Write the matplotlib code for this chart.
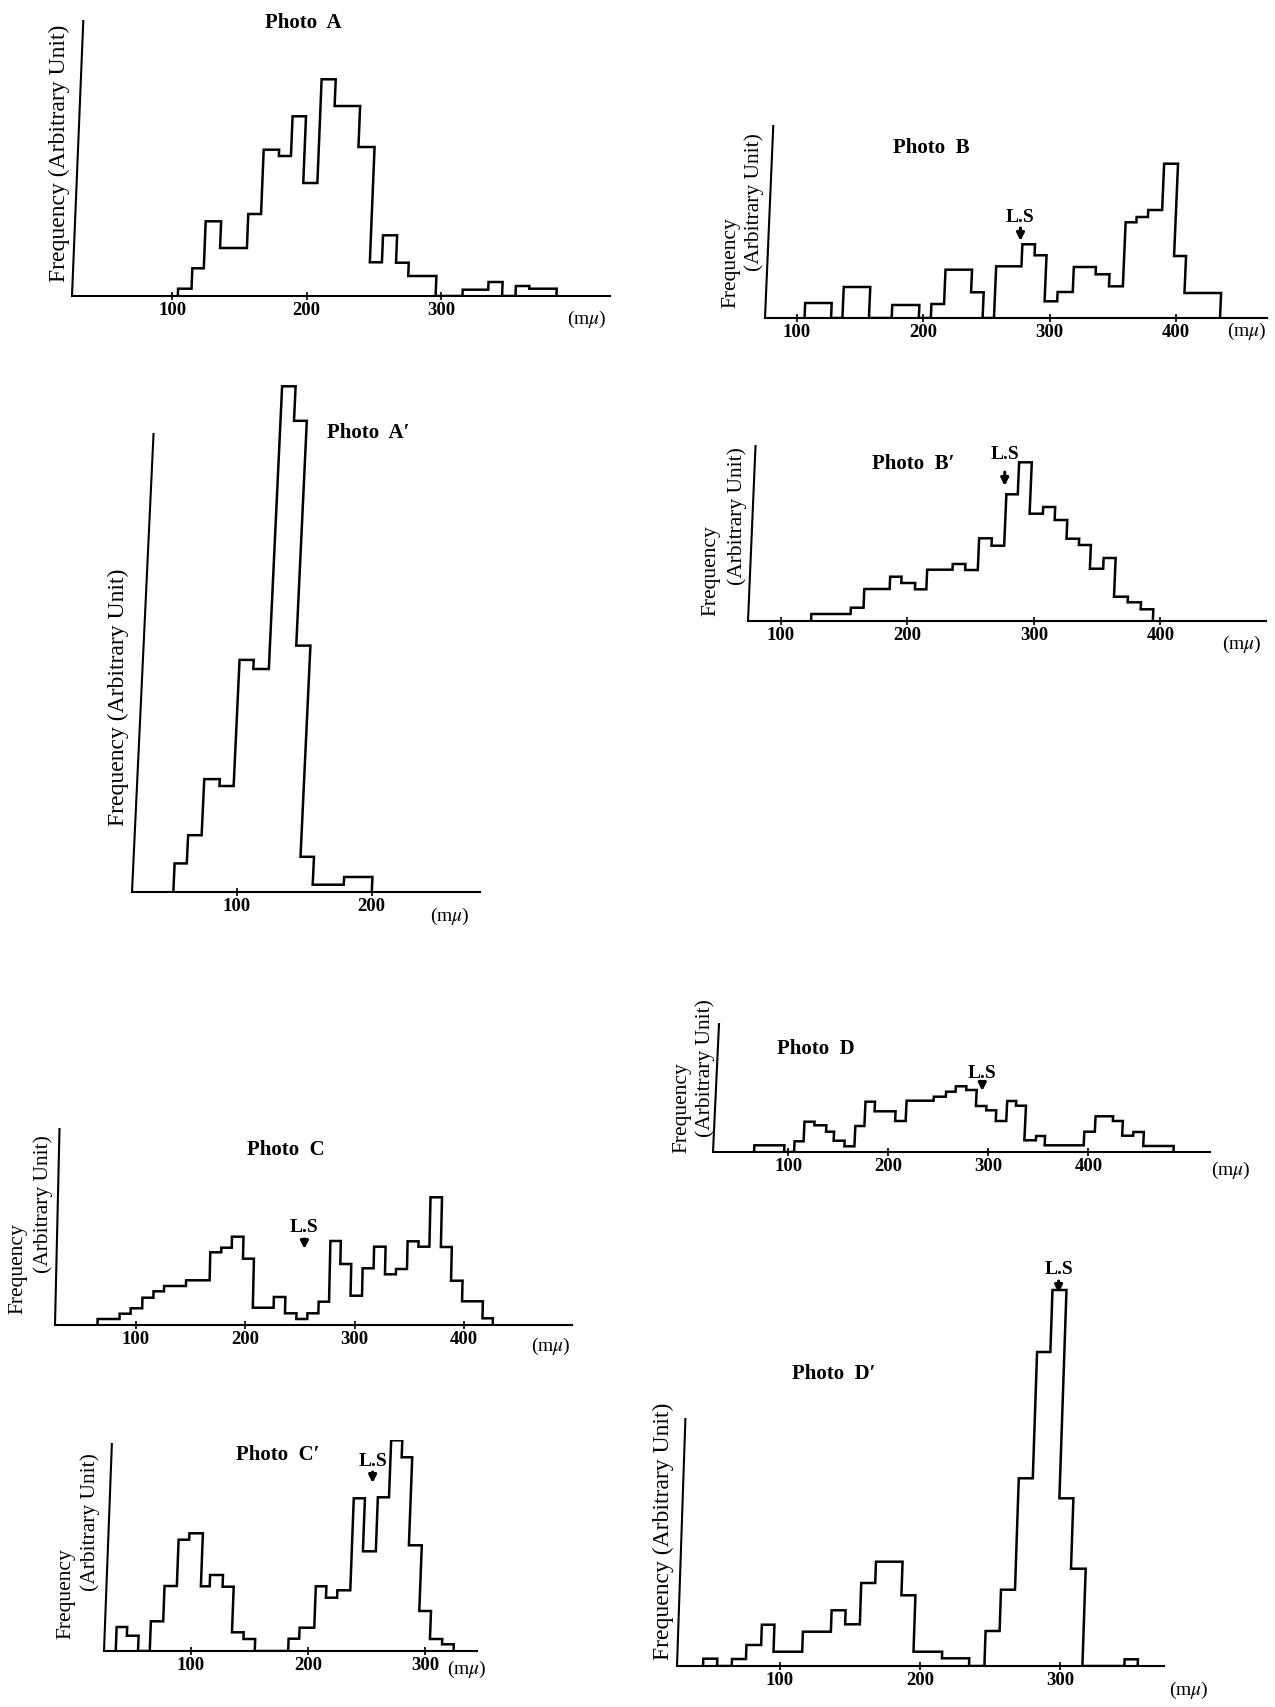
import matplotlib
matplotlib.use('Agg')
import numpy as np
import matplotlib.pyplot as plt
from matplotlib.transforms import Affine2D

# ---------------- data (edges in m-mu, heights in arbitrary units) ----------------
A_edges = [104, 114, 122.5, 134, 154, 163.5, 175, 184, 194, 204.5, 215, 234, 246, 255,
           265.5, 275, 296, 316, 335, 345.5, 355.5, 365.5, 386]
A_heights = [7.3, 27.7, 74.7, 48, 82, 146.3, 140, 179.7, 113, 216.7, 190, 149, 33.7,
             60.7, 33.3, 20, 0, 6.3, 14, 0, 10, 7.3]

B_edges = [106, 127, 136, 157, 175, 196.5, 206, 216, 237, 247, 256, 276, 286, 295.5,
           305.5, 317.5, 335, 346, 357, 365.5, 374.5, 385.5, 396.5, 406, 435]
B_heights = [15, 0, 31, 0, 13, 0, 14, 48.3, 25.7, 0, 51.7, 73.7, 62.7, 16.7, 26, 51,
             43.7, 31.7, 95.7, 101, 108, 154.3, 62, 25]

A2_edges = [53, 62, 72, 83.5, 94, 104.5, 116, 126, 135.5, 146, 156, 179, 200]
A2_heights = [28.6, 56.8, 112.9, 106, 232.1, 223, 505.7, 471.2, 246.4, 35.2, 7.3, 15]

B2_edges = [124, 155, 165, 185, 194, 205, 214, 234, 244, 254, 264, 274, 283, 293, 303.5,
            313, 323, 333, 342.5, 353, 362.5, 373.5, 384, 394]
B2_heights = [7, 13.3, 32, 44.3, 38, 31.7, 51.3, 57, 51, 82.7, 75.3, 126.7, 158.7, 107.3,
              114, 101, 82.3, 76, 52.3, 63, 24.3, 18.7, 11.7]

C_edges = [65, 85, 95, 105.5, 115.5, 125, 145, 166.5, 176.5, 186, 196.5, 206.5, 225.5,
           236, 246.5, 256.5, 266.5, 276, 285.5, 295.5, 306, 316, 326.5, 336.5, 346.5,
           356.5, 366.5, 377, 387, 397.5, 416.5, 426]
C_heights = [6, 11.3, 16.7, 27.3, 33.7, 39, 44.7, 72.7, 77.3, 88.3, 66.3, 17.3, 28, 11.7,
             6, 11.7, 23.3, 84, 61, 29.3, 56.7, 78.3, 50.7, 56, 83.7, 78.3, 127.7, 78,
             44.3, 23.7, 6.7]

D_edges = [66, 96, 106, 115, 125, 137, 145, 156, 166, 175, 184.5, 205.5, 216, 243, 255,
           264.5, 275, 285.5, 296, 306, 316.5, 325.5, 335.5, 347, 356, 395, 405.5, 423,
           433, 444, 454.5, 485]
D_heights = [6.7, 0, 10.7, 30.3, 26.7, 20.3, 11.3, 5.7, 26, 50.3, 40.7, 31, 51.3, 55.3,
             60.3, 65.7, 62, 46, 41.7, 31, 51, 46.3, 11.7, 16, 6.7, 20.3, 35.7, 31, 16.3,
             20, 6]

C2_edges = [36, 45, 55, 65, 75.5, 86, 95, 106.5, 114, 125, 134.5, 144.5, 154.5, 183, 192,
            204.5, 213.5, 223, 234, 243.5, 254.5, 264, 273.5, 282.5, 293.5, 303.5, 314, 324]
C2_heights = [24, 15.3, 0, 29.7, 65, 111.3, 117.7, 64.7, 76, 64.3, 18.7, 12, 0, 12.3,
              23.3, 64.7, 53.3, 60.7, 152.7, 99.7, 153.7, 210.7, 193.7, 105.7, 40, 12, 6.7]

D2_edges = [45, 55, 65.5, 75.5, 86, 95, 115.5, 135.5, 145.5, 156, 166, 185, 195, 215.5,
            235, 246, 256, 266, 276, 285.5, 295.5, 305.5, 316, 346, 355.5]
D2_heights = [7.3, 0, 7, 21, 41.3, 14.3, 34.3, 55.7, 41.7, 83, 104.3, 70.7, 14.3, 7.7, 0,
              35, 76.3, 187.7, 314, 376, 167.7, 97.3, 0, 6.7]

TICKS_2 = [100, 200]
TICKS_3 = [100, 200, 300]
TICKS_4 = [100, 200, 300, 400]
LS_LABEL = "L.S"
UNIT_LABEL = "(m$\\mu$)"
YLAB_ONE = "Frequency (Arbitrary Unit)"
YLAB_1 = "Frequency"
YLAB_2 = "(Arbitrary Unit)"

# ---------------- figure ----------------
W, H = 1275, 1707
plt.rcParams['font.family'] = ['Liberation Serif', 'DejaVu Serif']
plt.rcParams['mathtext.fontset'] = 'stix'
fig = plt.figure(figsize=(W / 100, H / 100), dpi=100)
fig.patch.set_facecolor('white')

LW = 1.8


def ftext(x, y, s, size=15, rot=0, **kw):
    fig.text(x / W, 1 - y / H, s, ha='center', va='center', fontsize=size,
             rotation=rot, **kw)


def panel(edges, heights, L, R, B, T, xlim, spine_h, ticks, lean):
    """lean = horizontal pixel drift per vertical pixel of the printed (scanned) page"""
    ax = fig.add_axes([L / W, 1 - B / H, (R - L) / W, (B - T) / H])
    ax.set_xlim(*xlim)
    ax.set_ylim(0, B - T)
    c = lean * (xlim[1] - xlim[0]) / (R - L)
    tr = Affine2D(np.array([[1.0, c, 0.0], [0.0, 1.0, 0.0], [0.0, 0.0, 1.0]])) + ax.transData
    ax.stairs(heights, edges, baseline=0, fill=False, color='black', lw=LW,
              transform=tr)
    ax.plot([xlim[0], xlim[0]], [0, spine_h], color='black', lw=1.5, transform=tr,
            clip_on=False, solid_capstyle='butt')
    ax.set_xlim(*xlim)
    ax.set_ylim(0, B - T)
    ax.patch.set_visible(False)
    for s in ('top', 'right', 'left'):
        ax.spines[s].set_visible(False)
    ax.spines['bottom'].set_linewidth(1.5)
    ax.set_yticks([])
    ax.set_xticks(ticks)
    ax.set_xticklabels([str(t) for t in ticks], fontweight='bold')
    ax.tick_params(axis='x', direction='inout', length=6, width=1.2, pad=1,
                   labelsize=13.5)
    return ax


def ls_mark(ax, B, x, ty, a_top, a_tip):
    ax.text(x, B - ty, LS_LABEL, ha='center', va='center', fontsize=14,
            fontweight='bold')
    ax.annotate('', xy=(x, B - a_tip), xytext=(x, B - a_top),
                arrowprops=dict(arrowstyle='-|>', color='black', lw=2.2,
                                mutation_scale=11, shrinkA=0, shrinkB=0),
                annotation_clip=False)


TW = 'bold'

# Photo A
panel(A_edges, A_heights, 72, 610, 296, 20, (25.2, 425.9), 276, TICKS_3, 0.041)
ftext(303, 23, "Photo  A", 15, fontweight=TW)
ftext(587, 319, UNIT_LABEL, 14)
ftext(59, 153, YLAB_ONE, 17, 90)

# Photo B
axB = panel(B_edges, B_heights, 765, 1267, 318, 125, (74.7, 472.2), 193, TICKS_4, 0.043)
ftext(931, 148, "Photo  B", 15, fontweight=TW)
ftext(1247, 331, UNIT_LABEL, 14)
ftext(731, 263, YLAB_1, 15.5, 90)
ftext(754, 202, YLAB_2, 15.5, 90)
ls_mark(axB, 318, 277, 218, 228, 241)

# Photo A'
panel(A2_edges, A2_heights, 132, 480, 892, 381, (22.4, 280.2), 459, TICKS_2, 0.047)
ftext(368, 433, "Photo  A′", 15, fontweight=TW)
ftext(450, 916, UNIT_LABEL, 14)
ftext(118, 697, YLAB_ONE, 17, 90)

# Photo B'
axB2 = panel(B2_edges, B2_heights, 748, 1266, 621, 445, (74.2, 483.4), 176, TICKS_4, 0.043)
ftext(913, 464, "Photo  B′", 15, fontweight=TW)
ftext(1242, 644, UNIT_LABEL, 14)
ftext(711, 571, YLAB_1, 15.5, 90)
ftext(737, 516, YLAB_2, 15.5, 90)
ls_mark(axB2, 621, 277, 455, 472, 486)

# Photo C
axC = panel(C_edges, C_heights, 55, 572, 1325, 1128, (26.2, 498.4), 197, TICKS_4, 0.023)
ftext(286, 1150, "Photo  C", 15, fontweight=TW)
ftext(551, 1346, UNIT_LABEL, 14)
ftext(18, 1269, YLAB_1, 15.5, 90)
ftext(43, 1204, YLAB_2, 15.5, 90)
ls_mark(axC, 1325, 254, 1228, 1239, 1249)

# Photo D
axD = panel(D_edges, D_heights, 713, 1210, 1152, 1023, (25, 521.5), 129, TICKS_4, 0.047)
ftext(816, 1049, "Photo  D", 15, fontweight=TW)
ftext(1231, 1170, UNIT_LABEL, 14)
ftext(682, 1108, YLAB_1, 15.5, 90)
ftext(705, 1068, YLAB_2, 15.5, 90)
ls_mark(axD, 1152, 294, 1073, 1082, 1091)

# Photo C'
axC2 = panel(C2_edges, C2_heights, 104, 477, 1651, 1440, (26, 344), 208, TICKS_3, 0.038)
ftext(278, 1455, "Photo  C′", 15, fontweight=TW)
ftext(467, 1669, UNIT_LABEL, 14)
ftext(66, 1594, YLAB_1, 15.5, 90)
ftext(90, 1522, YLAB_2, 15.5, 90)
ls_mark(axC2, 1651, 255, 1462, 1472, 1483)

# Photo D'
axD2 = panel(D2_edges, D2_heights, 677, 1164, 1666, 1286, (26.4, 374.3), 248, TICKS_3, 0.034)
ftext(834, 1374, "Photo  D′", 15, fontweight=TW)
ftext(1189, 1690, UNIT_LABEL, 14)
ftext(663, 1531, YLAB_ONE, 17, 90)
ls_mark(axD2, 1666, 299, 1270, 1281, 1293)

fig.savefig('out.png', dpi=100, facecolor='white')
